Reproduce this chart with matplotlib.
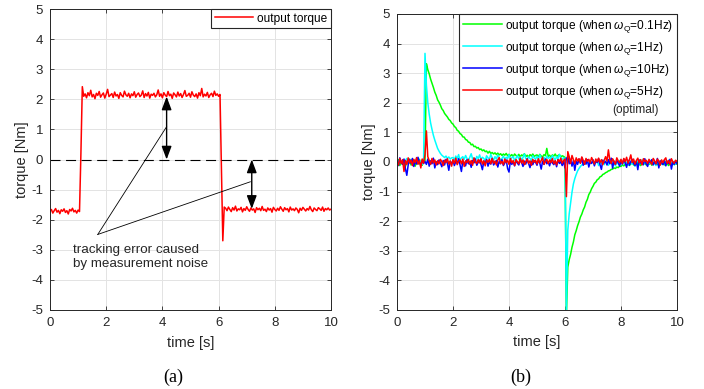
import numpy as np
import matplotlib
matplotlib.use("Agg")
import matplotlib.pyplot as plt
from matplotlib.lines import Line2D

plt.rcParams['font.family'] = ['Liberation Sans', 'DejaVu Sans']
plt.rcParams['mathtext.fontset'] = 'custom'
plt.rcParams['mathtext.rm'] = 'Liberation Sans'
plt.rcParams['mathtext.it'] = 'Liberation Sans:italic'
plt.rcParams['axes.unicode_minus'] = False

# ---------------- data ----------------
time_s = np.round(np.arange(201) * 0.05, 2)

torque_a = [
    -1.72,-1.66,-1.78,-1.70,-1.63,-1.75,-1.69,-1.80,-1.67,-1.72,-1.64,-1.76,-1.70,-1.81,-1.66,-1.71,-1.62,-1.74,-1.69,-1.78,-1.68,-1.73,
    0.20, 2.42,
    2.10,2.18,2.05,2.22,2.12,2.30,2.08,2.16,2.02,2.20,
    2.13,2.26,2.07,2.15,2.21,2.04,2.17,2.33,2.09,2.14,
    2.19,2.06,2.24,2.11,2.16,2.03,2.22,2.13,2.08,2.27,
    2.15,2.10,2.20,2.05,2.18,2.12,2.25,2.07,2.16,2.21,
    2.09,2.14,2.28,2.06,2.19,2.11,2.23,2.04,2.17,2.13,
    2.20,2.08,2.15,2.31,2.10,2.18,2.05,2.22,2.14,2.09,
    2.26,2.12,2.17,2.03,2.21,2.15,2.08,2.24,2.11,2.19,
    2.06,2.16,2.29,2.10,2.13,2.20,2.07,2.25,2.14,2.09,
    2.18,2.04,2.22,2.12,2.36,2.08,2.17,2.11,2.23,2.06,
    2.15,2.20,2.09,2.27,2.13,2.18,2.10,2.16,
    -0.30, -2.70, -1.58,
    -1.62,-1.70,-1.58,-1.66,-1.73,-1.60,-1.68,-1.55,-1.71,-1.64,
    -1.67,-1.59,-1.74,-1.63,-1.69,-1.57,-1.66,-1.72,-1.61,-1.68,
    -1.64,-1.76,-1.60,-1.67,-1.62,-1.70,-1.56,-1.69,-1.65,-1.73,
    -1.61,-1.68,-1.63,-1.75,-1.59,-1.66,-1.71,-1.62,-1.69,-1.57,
    -1.65,-1.72,-1.60,-1.67,-1.63,-1.74,-1.58,-1.68,-1.64,-1.70,
    -1.61,-1.66,-1.77,-1.62,-1.69,-1.59,-1.65,-1.71,-1.63,-1.68,
    -1.56,-1.67,-1.73,-1.61,-1.66,-1.70,-1.60,-1.64,-1.69,-1.58,
    -1.72,-1.63,-1.67,-1.61,-1.68,-1.65,
]

torque_q01 = [
    -0.05,0.08,-0.12,0.02,-0.08,0.05,-0.15,0.00,-0.06,0.10,-0.10,-0.02,0.06,-0.14,0.03,-0.07,0.09,-0.04,-0.11,0.04,
    0.05,
    3.32,3.12,2.98,2.80,2.66,2.52,2.36,2.25,2.10,2.02,1.92,1.80,1.74,1.64,1.58,1.52,1.44,1.40,1.32,
    1.28,1.20,1.16,1.07,1.04,0.96,0.93,0.85,0.84,0.76,0.74,0.67,0.66,0.58,0.60,0.52,0.53,0.47,0.49,0.42,
    0.44,0.38,0.41,0.35,0.37,0.30,0.36,0.29,0.32,0.27,0.31,0.25,0.30,0.24,0.28,0.22,0.27,0.23,0.29,0.21,
    0.26,0.20,0.25,0.18,0.27,0.22,0.19,0.26,0.17,0.24,0.21,0.28,0.18,0.23,0.16,0.25,0.20,0.27,0.19,0.22,
    0.24,0.18,0.26,0.20,0.17,0.25,0.21,0.46,0.19,0.23,0.16,0.24,0.20,0.27,0.18,0.22,0.25,0.17,0.21,0.19,
    0.15, -5.2,
    -3.55,-3.30,-3.12,-2.88,-2.70,-2.46,-2.32,-2.15,-2.02,-1.86,-1.76,-1.62,-1.52,-1.36,-1.26,-1.10,-1.02,-0.90,
    -0.82,-0.72,-0.68,-0.60,-0.57,-0.50,-0.48,-0.42,-0.40,-0.36,-0.34,-0.30,-0.29,-0.25,-0.24,-0.20,-0.22,-0.17,-0.19,-0.14,
    -0.15,-0.10,-0.13,-0.08,-0.11,-0.05,-0.12,-0.06,-0.02,-0.10,-0.04,-0.09,0.00,-0.07,-0.12,-0.03,-0.08,-0.01,-0.10,-0.05,
    -0.08,-0.02,-0.11,-0.04,0.02,-0.09,-0.06,-0.13,-0.01,-0.07,-0.03,-0.10,0.01,-0.06,-0.12,-0.04,-0.08,0.00,-0.09,-0.05,-0.07,
]

torque_q1 = [
    0.02,-0.06,0.10,-0.03,0.07,-0.09,0.04,0.12,-0.05,0.01,0.08,-0.07,0.03,-0.02,0.11,-0.04,0.06,0.00,-0.08,0.05,
    3.67,
    2.60,2.00,1.62,1.32,1.10,0.90,0.74,0.60,0.46,0.37,0.29,0.23,0.19,0.15,0.20,0.12,0.17,0.10,0.14,
    0.15,0.08,0.20,0.11,0.25,0.06,0.14,0.18,0.09,0.22,
    0.12,0.05,0.17,0.28,0.10,0.13,0.07,0.19,0.11,0.24,
    0.08,0.16,0.12,0.04,0.21,0.14,0.09,0.26,0.13,0.07,
    0.18,0.10,0.23,0.15,0.06,0.12,0.20,0.09,0.16,0.11,
    0.25,0.08,0.14,0.19,0.05,0.13,0.22,0.10,0.17,0.07,
    0.15,0.27,0.11,0.09,0.18,0.12,0.06,0.21,0.14,0.10,
    0.19,0.08,0.24,0.13,0.11,0.16,0.05,0.20,0.12,0.17,
    0.09,0.22,0.14,0.07,0.18,0.11,0.26,0.13,0.08,0.15,
    0.10, -5.0,
    -2.30,-1.75,-1.38,-1.02,-0.74,-0.56,-0.42,-0.30,-0.22,-0.15,-0.10,-0.06,-0.03,
    -0.06,0.04,-0.10,0.01,-0.04,0.07,-0.08,-0.02,0.05,-0.12,
    0.00,-0.05,0.06,-0.09,0.03,-0.03,-0.11,0.02,-0.06,0.08,
    -0.04,-0.13,0.01,-0.07,0.05,-0.02,-0.09,0.03,-0.05,0.00,
    -0.10,0.06,-0.03,-0.08,0.02,-0.14,-0.01,0.04,-0.06,-0.03,
    0.07,-0.09,-0.02,0.01,-0.11,-0.04,0.05,-0.07,0.00,-0.05,
    -0.12,0.03,-0.06,0.02,-0.08,-0.01,0.04,-0.10,-0.03,0.06,
    -0.07,-0.02,0.01,-0.09,-0.04,-0.06,
]

torque_q10 = [
    0.05,-0.12,0.14,-0.03,-0.08,0.10,-0.22,-0.45,-0.10,0.08,
    -0.04,0.12,-0.15,0.03,-0.07,0.16,-0.02,-0.11,0.06,-0.05,
    0.02,-0.08,0.10,-0.14,0.04,-0.06,0.13,-0.20,0.01,-0.09,
    0.07,-0.03,-0.16,0.05,-0.10,0.09,-0.04,-0.28,0.03,-0.07,
    0.06,-0.12,0.02,-0.05,0.11,-0.09,-0.32,0.04,-0.02,-0.13,
    0.08,-0.06,0.01,-0.18,0.05,-0.03,0.10,-0.11,-0.01,0.06,
    -0.08,-0.26,0.03,-0.05,0.09,-0.14,0.00,-0.07,0.12,-0.10,
    -0.02,0.05,-0.17,0.02,-0.06,0.08,-0.12,-0.03,0.07,-0.22,
    -0.34,0.04,-0.08,0.01,-0.13,0.06,-0.04,-0.10,0.09,-0.02,
    -0.15,0.03,-0.07,0.11,-0.05,-0.19,0.02,-0.09,0.05,-0.01,
    -0.11,0.07,-0.04,-0.24,0.03,-0.08,0.10,-0.06,0.00,-0.13,
    0.06,-0.03,-0.09,0.04,-0.16,0.08,-0.05,0.01,-0.12,0.03,
    -0.20,0.12,0.18,-0.06,0.09,-0.14,0.05,-0.28,0.02,-0.08,
    0.10,-0.04,0.15,-0.11,0.03,-0.07,0.08,-0.17,0.01,-0.05,
    0.07,-0.13,0.04,-0.02,0.11,-0.09,-0.25,0.06,-0.03,0.02,
    -0.10,0.08,-0.06,0.13,-0.21,0.03,-0.08,0.05,-0.02,-0.14,
    0.04,-0.07,0.10,-0.03,-0.18,0.06,-0.11,0.01,0.09,-0.05,
    -0.12,0.03,-0.26,0.07,-0.04,0.02,-0.09,0.11,-0.06,-0.15,
    0.05,-0.02,0.08,-0.10,0.01,-0.07,0.12,-0.20,0.04,-0.03,
    -0.09,0.06,-0.13,0.02,-0.05,0.09,-0.24,0.00,-0.08,0.04,
    -0.06,
]

torque_q5 = [
    0.02,-0.10,0.12,-0.05,0.08,-0.32,0.05,-0.08,0.14,-0.03,
    0.06,-0.12,0.09,-0.02,0.15,-0.07,0.04,-0.20,0.10,-0.04,
    0.25,1.05,0.18,0.05,-0.08,0.12,-0.03,0.07,-0.10,0.04,
    -0.06,0.09,0.01,-0.12,0.06,-0.02,0.11,-0.07,0.03,-0.14,
    0.08,-0.04,0.13,-0.09,0.02,0.07,-0.06,0.10,-0.15,0.04,
    -0.02,0.09,-0.08,0.05,-0.11,0.14,0.00,-0.05,0.08,-0.03,
    0.11,-0.07,0.04,-0.13,0.06,-0.01,0.09,-0.06,0.12,-0.04,
    0.03,-0.10,0.07,0.15,-0.05,0.02,-0.09,0.10,-0.02,0.06,
    -0.08,0.12,-0.03,0.05,-0.12,0.08,0.01,-0.06,0.13,-0.04,
    0.07,-0.09,0.02,0.10,-0.05,0.04,-0.11,0.09,-0.01,0.06,
    -0.07,0.11,-0.03,0.05,0.16,-0.08,0.02,0.09,-0.05,0.07,
    -0.02,0.12,-0.06,0.04,-0.10,0.08,0.01,0.13,-0.04,0.06,
    0.10,-1.17,0.35,0.18,-0.05,0.22,0.08,-0.06,0.14,0.03,
    0.11,-0.04,0.17,0.06,-0.08,0.12,0.02,0.09,-0.03,0.15,
    0.05,-0.07,0.10,0.01,0.13,-0.02,0.08,-0.09,0.06,0.18,
    0.03,0.41,0.07,-0.05,0.11,0.02,-0.08,0.14,0.04,-0.03,
    0.09,-0.06,0.12,0.01,0.16,-0.04,0.07,0.24,-0.02,0.10,
    -0.07,0.05,0.13,-0.03,0.08,-0.10,0.11,0.02,0.06,-0.05,
    0.09,0.00,-0.08,0.12,0.04,-0.06,0.10,0.03,-0.11,0.07,
    -0.02,0.08,0.14,-0.05,0.05,-0.09,0.11,0.01,-0.04,0.06,
    0.02,
]

x_ticks = [0, 2, 4, 6, 8, 10]
y_ticks = [-5, -4, -3, -2, -1, 0, 1, 2, 3, 4, 5]

labels_b = [r'output torque (when $\omega_{\mathrm{Q}}$=0.1Hz)',
            r'output torque (when $\omega_{\mathrm{Q}}$=1Hz)',
            r'output torque (when $\omega_{\mathrm{Q}}$=10Hz)',
            r'output torque (when $\omega_{\mathrm{Q}}$=5Hz)']
colors_b = ['#00ff00', '#00ffff', '#0000ff', '#ff0000']

# ---------------- figure ----------------
fig = plt.figure(figsize=(7.04, 3.89), dpi=100)
W, H = 704, 389
axA = fig.add_axes([50 / W, 1 - 310 / H, 281 / W, 301 / H])
axB = fig.add_axes([397 / W, 1 - 310 / H, 280 / W, 296 / H])

spine_c = '#262626'
for ax in (axA, axB):
    ax.set_xlim(0, 10)
    ax.set_ylim(-5, 5)
    ax.set_xticks(x_ticks)
    ax.set_yticks(y_ticks)
    ax.grid(True, color='#e3e3e3', lw=0.7)
    ax.set_axisbelow(True)
    ax.tick_params(direction='in', top=True, right=True, length=3, width=0.6,
                   colors=spine_c, labelsize=9.5, pad=5)
    for s in ax.spines.values():
        s.set_color(spine_c)
        s.set_linewidth(0.7)
    ax.set_xlabel('time [s]', fontsize=10.5, color=spine_c)
    ax.set_ylabel('torque [Nm]', fontsize=10.5, color=spine_c)
    ax.xaxis.set_label_coords(0.5, -0.085)
    ax.yaxis.set_label_coords(-0.075, 0.5)

# panel (a)
axA.plot(time_s, torque_a, color='#ff0000', lw=1.1, label='output torque')
axA.axhline(0, color='black', lw=0.8, ls=(0, (9, 5)))
leg = axA.legend(loc='upper right', bbox_to_anchor=(1, 1), borderaxespad=0,
                 fontsize=8.6, frameon=True, fancybox=False, framealpha=1,
                 borderpad=0.3, handlelength=3.2, handletextpad=0.35)
leg.get_frame().set_edgecolor(spine_c)
leg.get_frame().set_linewidth(0.8)

arrow_kw = dict(arrowstyle='<|-|>,head_length=0.8,head_width=0.3',
                color='black', lw=1.0, shrinkA=0, shrinkB=0)
axA.annotate('', xy=(4.15, 2.09), xytext=(4.15, 0.0), arrowprops=arrow_kw)
axA.annotate('', xy=(7.18, 0.0), xytext=(7.18, -1.64), arrowprops=arrow_kw)
axA.plot([1.70, 4.15], [-2.49, 1.09], color='black', lw=0.6)
axA.plot([1.70, 7.13], [-2.49, -0.74], color='black', lw=0.6)
axA.text(0.83, -2.80, 'tracking error caused\nby measurement noise',
         fontsize=9.6, va='top', ha='left', color=spine_c, linespacing=1.27)

# panel (b)
series_b = [torque_q01, torque_q1, torque_q10, torque_q5]
handles = []
for vals, c, lab in zip(series_b, colors_b, labels_b):
    h, = axB.plot(time_s, vals, color=c, lw=1.1, label=lab)
    handles.append(h)
dummy = Line2D([], [], color='none')
legB = axB.legend(handles + [dummy], labels_b + [' '], loc='upper right',
                  bbox_to_anchor=(1, 1), borderaxespad=0, fontsize=8.6,
                  frameon=True, fancybox=False, framealpha=1, borderpad=0.3,
                  handlelength=3.3, handletextpad=0.25, labelspacing=0.42)
legB.get_frame().set_edgecolor(spine_c)
legB.get_frame().set_linewidth(0.8)
fig.text(659 / W, 1 - 110 / H, '(optimal)', fontsize=8.6, ha='right',
         va='center', color=spine_c)

fig.text(173 / W, 1 - 377 / H, '(a)', family='Liberation Serif', fontsize=13,
         ha='center', va='center')
fig.text(521 / W, 1 - 377 / H, '(b)', family='Liberation Serif', fontsize=13,
         ha='center', va='center')

fig.savefig('out.png', dpi=100)
